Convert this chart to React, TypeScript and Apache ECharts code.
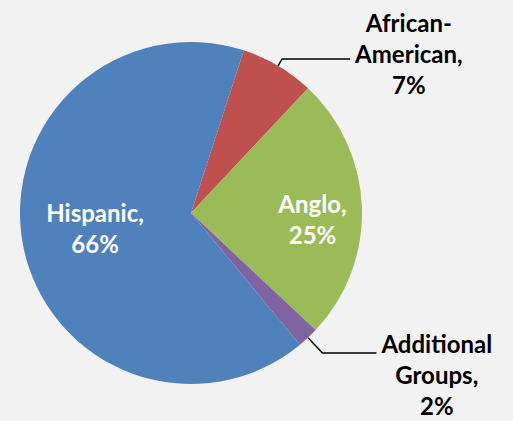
import React, { useEffect, useRef } from "react";
import * as echarts from "echarts";

const categories = ["African-\nAmerican", "Anglo", "Additional\nGroups", "Hispanic"];
const values = [7, 25, 2, 66];
const colors = ["#C0504D", "#9BBB59", "#8064A2", "#4F81BD"];
const insideLabel = [false, true, false, true];

// label nudges (style only)
const labelNudge: Record<number, [number, number]> = {
  0: [0, -5],
  1: [33, 9],
  2: [0, 22],
  3: [-9, -2],
};

const FONT = "Lato, 'Liberation Sans', sans-serif";

export default function App() {
  const ref = useRef<HTMLDivElement>(null);
  useEffect(() => {
    if (!ref.current) return;
    const chart = echarts.init(ref.current, null, { renderer: "svg" });
    const data = categories.map((name, i) => {
      const inside = insideLabel[i];
      const lines = name.split("\n");
      lines[lines.length - 1] += ",";
      const text = [...lines, values[i] + "%"].map((l) => `{c|${l}}`).join("\n");
      return {
        name,
        value: values[i],
        itemStyle: { color: colors[i] },
        label: {
          show: true,
          position: inside ? "inside" : "outside",
          formatter: text,
          rich: {
            c: {
              align: "center",
              fontFamily: FONT,
              fontWeight: "bold",
              fontSize: 24,
              lineHeight: 31,
              color: inside ? "#FFFFFF" : "#000000",
            },
          },
        },
        labelLine: inside
          ? { show: false }
          : {
              show: true,
              length: i === 0 ? 8 : 21,
              length2: i === 0 ? 68 : 54,
              lineStyle: { color: "#000000", width: 1.5 },
            },
      };
    });
    chart.setOption({
      animation: false,
      backgroundColor: "#F2F2F2",
      series: [
        {
          type: "pie",
          center: [191, 213],
          radius: 171,
          startAngle: 72,
          clockwise: true,
          avoidLabelOverlap: false,
          data,
          label: { distanceToLabelLine: 5 },
          labelLayout: (p: any) => {
            const n = labelNudge[p.dataIndex];
            if (!n) return {};
            const r = p.labelRect;
            const out: any = {
              y: r.y + r.height / 2 + n[1],
              verticalAlign: "middle",
            };
            if (insideLabel[p.dataIndex]) {
              out.x = r.x + r.width / 2 + n[0];
              out.align = "center";
            } else if (p.labelLinePoints) {
              out.labelLinePoints = p.labelLinePoints;
            }
            return out;
          },
        },
      ],
    });
    return () => chart.dispose();
  }, []);
  return (
    <div
      ref={ref}
      style={{ position: "fixed", left: 0, top: 0, width: 513, height: 421 }}
    />
  );
}
